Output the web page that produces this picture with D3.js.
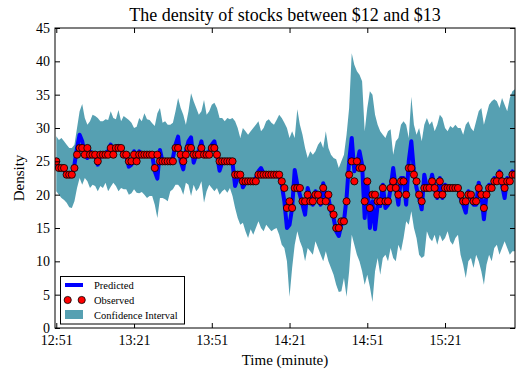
<!DOCTYPE html>
<html>
<head>
<meta charset="utf-8">
<script src="https://cdn.jsdelivr.net/npm/d3@7"></script>
<style>
  html, body { margin: 0; padding: 0; background: #fff; }
  svg { display: block; }
  text { font-family: "Liberation Serif", "Times New Roman", serif; fill: #000; }
</style>
</head>
<body>
<svg id="chart" width="519" height="374"></svg>
<script>
// Observed density per minute (index 0 = 12:51)
const observed = [
  25,24,24,24,23,23,23,24,26,27,
  27,26,27,26,26,26,25,26,26,26,
  26,27,26,27,27,27,26,26,25,25,
  26,25,26,26,26,26,26,26,24,26,
  25,25,25,25,25,25,27,27,26,25,
  26,27,27,26,26,26,27,26,26,26,
  27,27,26,25,25,25,25,25,25,23,
  23,23,22,22,22,22,22,22,23,23,
  23,23,23,23,23,23,23,22,21,18,
  19,18,21,21,21,19,19,20,19,19,
  20,20,19,21,19,20,18,17,15,15,
  16,16,19,23,25,22,25,24,24,19,
  22,18,20,20,19,19,21,19,19,21,
  22,21,20,22,22,20,24,24,23,22,
  20,19,21,21,21,22,21,20,22,20,
  21,21,21,21,21,21,20,19,19,20,
  20,19,19,21,20,18,20,21,21,22,
  22,23,22,21,22,22,23,23
];

// Model prediction
const predicted = [
  24.5,24,24,23.8,23,22.8,23,24.5,27,29,
  28,26,25.5,26.5,26,26,24.5,26,26,26.3,
  26.5,27.5,26,27,27.3,27,26,25.8,24.2,24.5,
  26.5,25,26.5,26,26,26,26,26,23.5,22.4,
  26.7,25,25,25,25,25.5,27.5,28.7,25,23.8,
  26.5,28,28.6,24.8,26,26.5,28,25.8,26,26.5,
  27.5,28,26,23.6,24.8,25,25,25,24.8,21.3,
  22.5,23,21.1,21.8,22,22,22,22.5,23.5,24,
  23.2,23,23,23,23,23,22.8,21.5,19,15,
  15.5,18,23.7,21.5,20,18.5,17,21,19.5,18.5,
  20.5,20,18.5,21.7,19.5,19.5,17.5,16.5,14.5,13.8,
  15.5,16,19.5,25,28.5,23.5,24.5,26.5,24.5,16.5,
  22,15,19,14.8,18.5,18.3,21.5,18,18.5,21,
  24,21,18.5,22.5,22.5,18.5,25,28,23.5,21,
  19.5,17.8,23,21,21,23,21,19.5,22.5,19.5,
  21.5,21,21,21,21,21,19.5,18.5,17.3,20.5,
  20,18.5,18.5,21.8,20,16.3,20,21.5,21,22.5,
  22,23.5,21.5,19.5,22.5,22,23.5,23
];

// Confidence interval bounds
const upper = [
  28.75,28.2,28.5,28,27.5,27,27,27.5,30,32.5,
  33.6,31.5,30.5,31,32,31.8,31.5,31,31,31.3,
  31.2,32.5,31.5,31.3,32.7,31,31.8,31.5,31.2,30.8,
  30,30.2,31.5,31,32.2,31.3,31.2,30.7,30.3,32.2,
  33,30.8,31,30.5,30.5,30.8,32.5,34.5,33,32,
  30.5,32.5,35.2,34,33,32,32.5,34.2,32,32.5,
  33.5,33.8,33,31.5,31.5,31,31.5,31.3,31.5,31,
  30,28.5,30,29.5,29,29.5,30,30.5,31,29.5,
  30,31,31.3,30.8,30.5,31.2,32,31.5,30.8,30,
  28.5,29.5,28.5,32.8,30.5,29,27,25.5,26.5,26,
  26.5,27.5,28,27,29.5,27,26,25.5,25.3,24,
  25,26,29,33,41.2,39.5,38.5,38,37,29.5,
  33,35.5,35,32,30.5,29.5,29,28.5,29.5,29.8,
  26,28,28.5,30.5,31,30.5,28.5,34.7,30.5,29,
  30,28,30.5,31.5,30.5,31,29.5,30.5,32,31.5,
  30,29.5,30.3,30,30.5,30,30,29,30.5,31,
  30,29.5,31,32.5,33,30.5,32,33.5,34,34.3,
  34,33,34.5,33.5,32.5,34.5,35.5,35.8
];

const lower = [
  20.5,20,19.5,19.2,18.8,18.1,18,19,21,22.5,
  21.5,22.5,22,21,21.5,21.3,20.5,21.3,21,21.8,
  20.5,21.2,21.8,21.3,20.5,21,20.8,20.8,20,20.2,
  20.8,20.3,20.2,20.4,20,19.5,19.8,19.8,18.5,16.5,
  19.5,19.5,19.3,19,20.5,20.8,21.5,21.5,21,20,
  21.8,21.5,19.8,21.5,20.5,21,22,18.8,20.5,21.5,
  21,20.5,21,20,20.5,20.8,20.3,21,19.8,18,
  16.5,15.5,15.8,14.5,13.5,14.8,14,15,16,15,
  14.5,15.5,15,14.5,14.8,15,14,12.5,12,10,
  4.7,9,12.5,14.5,13,12,10,12,11.5,11,
  13,12,11,10,11.5,10,9,8,6.5,5.4,
  5.5,7.5,4.7,8.5,14,12.5,11,10,8.5,6.5,
  8,6.2,3.9,8.5,10.5,8,10.5,11,10,12,
  10.5,10,12.5,11.5,13.5,16,15.5,17.5,15,13.5,
  11,10.5,10.8,14.5,13.5,13,14,12.5,14,13,
  13.5,14.5,13,12.5,13.5,14,11,9.5,7.5,10,
  10.5,9,11,10,8.5,6.5,9.5,11,10,12,
  12.5,11,12,13,12,11,11.5,11.5
];

const tickMinutes = [0, 30, 60, 90, 120, 150];
const tickLabels = ["12:51", "13:21", "13:51", "14:21", "14:51", "15:21"];
const yTicks = [0, 5, 10, 15, 20, 25, 30, 35, 40, 45];

const svg = d3.select("#chart");
const pLeft = 55, pRight = 515, pTop = 28, pBottom = 328;

const x = d3.scaleLinear().domain([-0.5, 177]).range([pLeft, pRight]);
const y = d3.scaleLinear().domain([0, 45]).range([pBottom, pTop]);

const rows = observed.map((v, i) => ({
  i, obs: v, pred: predicted[i], lo: lower[i], hi: upper[i]
}));

svg.append("defs").append("clipPath").attr("id", "plotclip")
  .append("rect").attr("x", pLeft).attr("y", pTop)
  .attr("width", pRight - pLeft).attr("height", pBottom - pTop);

const plot = svg.append("g").attr("clip-path", "url(#plotclip)");

const bandColor = "#56a0b2";

// confidence band
plot.append("path")
  .datum(rows)
  .attr("fill", bandColor)
  .attr("d", d3.area().x(d => x(d.i)).y0(d => y(d.lo)).y1(d => y(d.hi)));

// predicted line
plot.append("path")
  .datum(rows)
  .attr("fill", "none")
  .attr("stroke", "#0000ff")
  .attr("stroke-width", 4)
  .attr("stroke-linejoin", "round")
  .attr("d", d3.line().x(d => x(d.i)).y(d => y(d.pred)));

// observed points
plot.append("g").selectAll("circle")
  .data(rows).join("circle")
  .attr("cx", d => x(d.i))
  .attr("cy", d => y(d.obs))
  .attr("r", 3.6)
  .attr("fill", "#ff0000")
  .attr("stroke", "#000")
  .attr("stroke-width", 0.8);

// axes with inward ticks on all four sides
const fontTick = "14px";
const xb = svg.append("g").attr("transform", `translate(0,${pBottom})`)
  .call(d3.axisBottom(x).tickValues(tickMinutes)
    .tickFormat((d, k) => tickLabels[k]).tickSize(-5).tickSizeOuter(0).tickPadding(7));
const xt = svg.append("g").attr("transform", `translate(0,${pTop})`)
  .call(d3.axisTop(x).tickValues(tickMinutes).tickFormat("").tickSize(-5).tickSizeOuter(0));
const yl = svg.append("g").attr("transform", `translate(${pLeft},0)`)
  .call(d3.axisLeft(y).tickValues(yTicks).tickFormat(d3.format("d"))
    .tickSize(-5).tickSizeOuter(0).tickPadding(5));
const yr = svg.append("g").attr("transform", `translate(${pRight},0)`)
  .call(d3.axisRight(y).tickValues(yTicks).tickFormat("").tickSize(-5).tickSizeOuter(0));

[xb, xt, yl, yr].forEach(g => {
  g.select(".domain").remove();
  g.selectAll(".tick line").attr("stroke", "#000").attr("stroke-width", 1);
  g.selectAll(".tick text")
    .attr("font-family", '"Liberation Serif", serif')
    .attr("font-size", fontTick).attr("fill", "#000");
});

// frame
svg.append("rect")
  .attr("x", pLeft).attr("y", pTop)
  .attr("width", pRight - pLeft).attr("height", pBottom - pTop)
  .attr("fill", "none").attr("stroke", "#000").attr("stroke-width", 1);

// title and axis labels
svg.append("text")
  .attr("x", (pLeft + pRight) / 2).attr("y", 21)
  .attr("text-anchor", "middle").attr("font-size", "18px")
  .text("The density of stocks between $12 and $13");

svg.append("text")
  .attr("x", (pLeft + pRight) / 2).attr("y", 365)
  .attr("text-anchor", "middle").attr("font-size", "15px")
  .text("Time (minute)");

svg.append("text")
  .attr("transform", `translate(24,${(pTop + pBottom) / 2}) rotate(-90)`)
  .attr("text-anchor", "middle").attr("font-size", "15px")
  .text("Density");

// legend
const lg = svg.append("g");
lg.append("rect")
  .attr("x", 60.5).attr("y", 276.5).attr("width", 124).attr("height", 47.5)
  .attr("fill", "#fff").attr("stroke", "#000").attr("stroke-width", 1);

lg.append("line")
  .attr("x1", 65).attr("x2", 83).attr("y1", 285).attr("y2", 285)
  .attr("stroke", "#0000ff").attr("stroke-width", 4);
[67.7, 81.7].forEach(cx => lg.append("circle")
  .attr("cx", cx).attr("cy", 300).attr("r", 3.6)
  .attr("fill", "#ff0000").attr("stroke", "#000").attr("stroke-width", 0.8));
lg.append("rect")
  .attr("x", 65).attr("y", 310).attr("width", 18).attr("height", 9)
  .attr("fill", bandColor);

const legendLabels = ["Predicted", "Observed", "Confidence Interval"];
legendLabels.forEach((t, k) => lg.append("text")
  .attr("x", 94).attr("y", 288.5 + k * 15)
  .attr("font-size", "10.5px").text(t));
</script>
</body>
</html>
